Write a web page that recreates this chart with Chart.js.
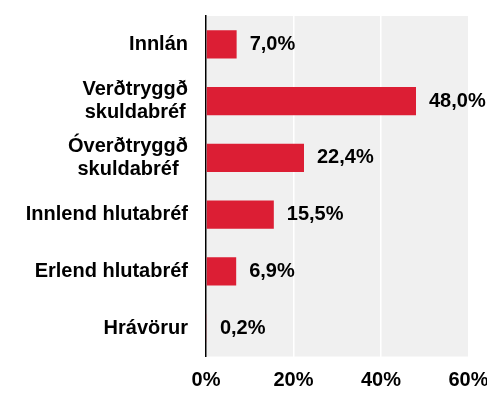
<!DOCTYPE html>
<html>
<head>
<meta charset="utf-8">
<script src="https://cdn.jsdelivr.net/npm/chart.js@4"></script>
<style>
  html, body { margin: 0; padding: 0; background: #fff; }
  #wrap { width: 487px; height: 394px; }
</style>
</head>
<body>
<div id="wrap"><canvas id="eignir"></canvas></div>
<script>
// asset classes, multi-line names are split into arrays
const categories = [
    "Innlán",
    ["Verðtryggð", "skuldabréf"],
    ["Óverðtryggð", "skuldabréf"],
    "Innlend hlutabréf",
    "Erlend hlutabréf",
    "Hrávörur"
];
const shares = [7.0, 48.0, 22.4, 15.5, 6.9, 0.2];
const xTicks = [0, 20, 40, 60];

const FONT = '"Liberation Sans", Arial, sans-serif';
const barRed = 'rgb(220, 30, 52)';

function fmtPct(v) {
    return v.toFixed(1).replace('.', ',') + '%';
}

// grey plot background
const plotBg = {
    id: 'plotBg',
    beforeDraw(chart) {
        let a = chart.chartArea;
        let ctx = chart.ctx;
        ctx.save();
        ctx.fillStyle = '#f0f0f0';
        ctx.fillRect(a.left, a.top, a.right - a.left, a.bottom - a.top);
        ctx.restore();
    }
};

// category names (centred lines, block right-aligned) and value labels
const labelsPlugin = {
    id: 'labelsPlugin',
    afterDraw(chart) {
        let ctx = chart.ctx;
        let y = chart.scales.y;
        let meta = chart.getDatasetMeta(0);
        ctx.save();
        ctx.font = 'bold 20px ' + FONT;
        ctx.fillStyle = '#000';
        ctx.textBaseline = 'middle';
        ctx.textAlign = 'center';

        categories.forEach((name, i) => {
            let lines = Array.isArray(name) ? name : [name];
            let w = Math.max(...lines.map(l => ctx.measureText(l).width));
            let cx = 188 - w / 2;
            let cy = y.getPixelForValue(i);
            let lh = 23;
            lines.forEach((l, j) => {
                ctx.fillText(l, cx, cy + (j - (lines.length - 1) / 2) * lh);
            });
        });

        ctx.textAlign = 'left';
        meta.data.forEach((bar, i) => {
            ctx.fillText(fmtPct(shares[i]), bar.x + 13, bar.y);
        });
        ctx.restore();
    }
};

new Chart(document.getElementById('eignir'), {
    type: 'bar',
    data: {
        labels: categories,
        datasets: [{
            data: shares,
            backgroundColor: barRed,
            borderWidth: 0,
            barPercentage: 1,
            categoryPercentage: 0.5
        }]
    },
    options: {
        indexAxis: 'y',
        responsive: true,
        maintainAspectRatio: false,
        animation: false,
        layout: { padding: { top: 16, right: 18.5, bottom: 0, left: 0 } },
        plugins: {
            legend: { display: false },
            tooltip: { enabled: false }
        },
        scales: {
            x: {
                min: 0,
                max: 60,
                afterBuildTicks(scale) {
                    scale.ticks = xTicks.map(v => ({ value: v }));
                },
                afterFit(scale) {
                    // let the last tick label run off the edge
                    scale.height = 37.5;
                    scale.paddingLeft = 0;
                    scale.paddingRight = 0;
                },
                grid: { color: '#ffffff', lineWidth: 1.5, drawTicks: false },
                border: { display: false },
                ticks: {
                    padding: 12,
                    color: '#000',
                    font: { family: FONT, size: 20, weight: 'bold' },
                    callback: v => v + '%'
                }
            },
            y: {
                afterFit(scale) { scale.width = 206; },
                grid: { display: false },
                border: { display: true, color: '#000', width: 1.5 },
                ticks: { display: false }
            }
        }
    },
    plugins: [plotBg, labelsPlugin]
});
</script>
</body>
</html>
